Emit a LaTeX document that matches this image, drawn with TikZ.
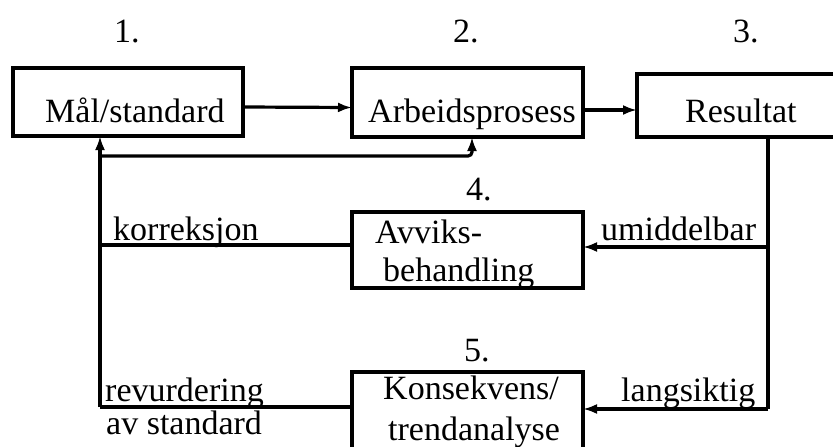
\documentclass[tikz,border=0pt]{standalone}
\usepackage{fontspec}
\setmainfont{Liberation Serif}
\usetikzlibrary{arrows.meta,calc}
\begin{document}
\begin{tikzpicture}[x=1pt,y=-1pt,
  boxnode/.style={draw,line width=3.2pt,inner sep=0pt,outer sep=0pt,rectangle},
  txt/.style={anchor=base west,inner sep=0pt,font=\fontsize{34}{40}\selectfont},
  ln/.style={line width=3.2pt},
  arr/.style={line width=3.2pt,-{Latex[length=14pt,width=10pt]}}]
\useasboundingbox (0,0) rectangle (833,447);
\clip (0,0) rectangle (833,447);
% boxes
\node[boxnode,minimum width=230pt,minimum height=68pt] (b1) at (128,102) {};
\node[boxnode,minimum width=231pt,minimum height=69pt] (b2) at (467.5,102.5) {};
\node[boxnode,minimum width=263pt,minimum height=63pt] (b3) at (768.5,105.5) {};
\node[boxnode,minimum width=231pt,minimum height=76pt] (b4) at (467.5,250) {};
\node[boxnode,minimum width=231pt,minimum height=98pt] (b5) at (467.5,421) {};
% texts
\node[txt] (t1) at (45,122) {Mål/standard};
\node[txt] (t2) at (368,122) {Arbeidsprosess};
\node[txt] (t3) at (685,122) {Resultat};
\node[txt] (t4a) at (375,243) {Avviks-};
\node[txt] (t4b) at (383,281) {behandling};
\node[txt] (t5a) at (383,399) {Konsekvens/};
\node[txt] (t5b) at (388,440) {trendanalyse};
\node[txt] (n1) at (114,42) {1.};
\node[txt] (n2) at (453,42) {2.};
\node[txt] (n3) at (733,42) {3.};
\node[txt] (n4) at (466,200) {4.};
\node[txt] (n5) at (464,361) {5.};
\node[txt] (lk) at (113,240) {korreksjon};
\node[txt] (lr) at (105,401) {revurdering};
\node[txt] (la) at (106,434) {av standard};
\node[txt] (lu) at (601,240) {umiddelbar};
\node[txt] (ll) at (621,401) {langsiktig};
% coordinates
\coordinate (lt) at (100,407);
\coordinate (fb) at (100,156);
\coordinate (fc) at (472,156);
\coordinate (rb) at (768,409);
\coordinate (ru) at (768,247);
% connectors
\draw[arr] ($(b1.east)+(0,5)$) -- ($(b2.west)+(0,5)$);
\draw[arr] ($(b2.east)+(0,7.5)$) -- ($(b3.west)+(0,4.5)$);
\draw[arr] (lt) -- (b1.south -| lt);
\draw[arr,rounded corners=4pt] (fb) -- (fc) -- (b2.south -| fc);
\draw[ln] ($(b4.west)+(0,-5)$) -- (lt |- {$(b4.west)+(0,-5)$});
\draw[ln] (b5.west |- lt) -- (lt);
\draw[ln] (b3.south -| rb) -- (rb);
\draw[arr] (ru) -- (b4.east |- ru);
\draw[arr] (rb) -- (b5.east |- rb);
\end{tikzpicture}
\end{document}
